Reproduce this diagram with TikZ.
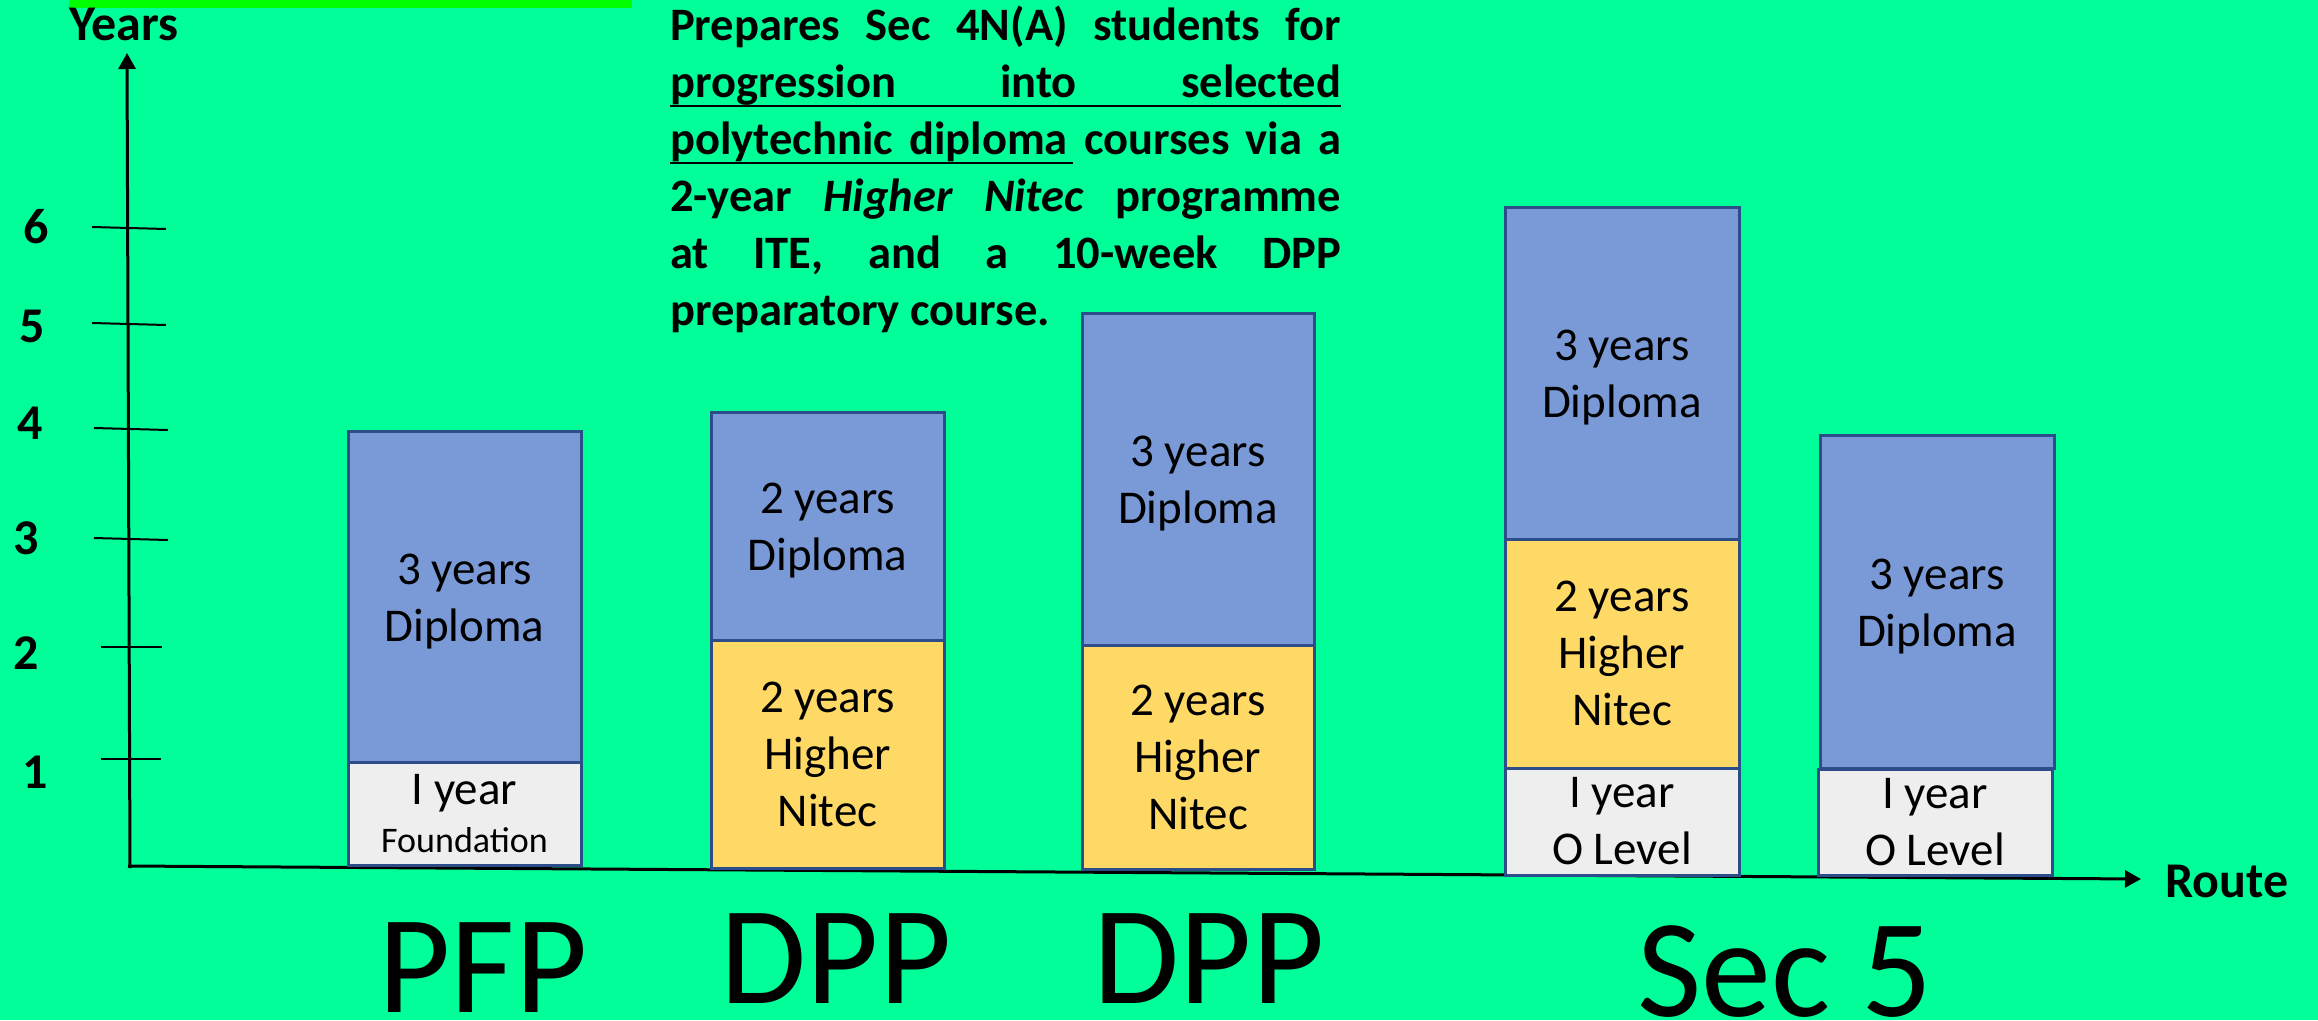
\documentclass[tikz,border=0pt]{standalone}
\usepackage{fontspec}
\setmainfont{Carlito}
\usetikzlibrary{arrows.meta}
\definecolor{bg}{HTML}{00FF99}
\definecolor{topbar}{HTML}{00FF00}
\definecolor{dipblue}{HTML}{7A9AD7}
\definecolor{nitec}{HTML}{FFD966}
\definecolor{pale}{HTML}{EEEEEE}
\definecolor{edge}{HTML}{2D4C8A}
\newcommand{\mytallstrut}{\rule{0pt}{40pt}}
\begin{document}
\begin{tikzpicture}[x=1pt,y=-1pt,
  seg/.style={draw=edge, line width=3pt, inner sep=0pt, align=center, font=\fontsize{47}{57}\selectfont},
  axisline/.style={line width=3pt, -{Triangle[length=16pt,width=17pt]}},
  tickline/.style={line width=2pt},
  ulineline/.style={line width=2.6pt},
  num/.style={font=\fontsize{50}{60}\selectfont\bfseries, inner sep=0pt},
  routelab/.style={font=\fontsize{140}{150}\selectfont, inner sep=0pt, anchor=base}
]
\useasboundingbox (0,0) rectangle (2318,1020);
\fill[bg] (0,0) rectangle (2318,1020);
\fill[topbar] (69,0) rectangle (632,8);

% axes
\coordinate (yfoot) at (130,868);
\coordinate (ytip) at (127,53);
\coordinate (xfoot) at (128,866);
\coordinate (xtip) at (2141,879);
\draw[axisline] (yfoot) -- (ytip);
\draw[axisline] (xfoot) -- (xtip);

% ticks
\draw[tickline] (92,227) -- (166,229);
\draw[tickline] (92,323) -- (166,325);
\draw[tickline] (94,428) -- (168,430);
\draw[tickline] (94,538) -- (168,540);
\draw[tickline] (101,647) -- (162,647);
\draw[tickline] (101,759) -- (161,759);

% tick labels
\node[num] (n6) at (36,227) {6};
\node[num] (n5) at (32,326) {5};
\node[num] (n4) at (30,423) {4};
\node[num] (n3) at (26,538) {3};
\node[num] (n2) at (26,653) {2};
\node[num] (n1) at (35,772) {1};

\node[num, anchor=base west] (ylab) at (69,40) {Years};
\node[num, anchor=base west] (xlab) at (2165,897) {Route};

% description
\node[anchor=base west, inner sep=0pt, text width=671pt, align=justify,
      font=\fontsize{46.5}{57}\selectfont\bfseries] (desc) at (670,40)
{Prepares Sec 4N(A) students for\linebreak
progression into selected\linebreak
polytechnic diploma courses via a\linebreak
2-year \textit{Higher Nitec} programme\linebreak
at ITE, and a 10-week DPP\linebreak
preparatory course.};
\draw[ulineline] (670,106) -- (1341,106);
\draw[ulineline] (670,163) -- (1073,163);

% PFP
\node[seg, fill=dipblue, minimum width=233pt, minimum height=331pt] (pfpdip) at (464.5,596.5) {\mytallstrut 3 years\\Diploma};
\node[seg, fill=pale, minimum width=233pt, minimum height=103pt] (pfpfound) at (464.5,813.5) {I year\\[-9pt]{\fontsize{36}{44}\selectfont Foundation}};

% DPP 1
\node[seg, fill=dipblue, minimum width=233pt, minimum height=228pt] (dppadip) at (827.5,526) {\mytallstrut 2 years\\Diploma};
\node[seg, fill=nitec, minimum width=233pt, minimum height=228pt] (dppanit) at (827.5,754) {2 years\\Higher\\Nitec};

% DPP 2
\node[seg, fill=dipblue, minimum width=232pt, minimum height=332pt] (dppbdip) at (1198,479) {\mytallstrut 3 years\\Diploma};
\node[seg, fill=nitec, minimum width=232pt, minimum height=224pt] (dppbnit) at (1198,757) {2 years\\Higher\\Nitec};

% Sec 5 a
\node[seg, fill=dipblue, minimum width=234pt, minimum height=332pt] (secadip) at (1622,373) {\mytallstrut 3 years\\Diploma};
\node[seg, fill=nitec, minimum width=234pt, minimum height=229pt] (secanit) at (1622,653.5) {2 years\\Higher\\Nitec};
\node[seg, fill=pale, minimum width=234pt, minimum height=107pt] (secaol) at (1622,821.5) {I year\\O Level};

% Sec 5 b
\node[seg, fill=dipblue, minimum width=234pt, minimum height=333pt] (secbdip) at (1937,601.5) {\mytallstrut 3 years\\Diploma};
\node[seg, fill=pale, minimum width=234pt, minimum height=106pt] (secbol) at (1935,822) {I year\\O Level};

% route labels
\node[routelab] (lpfp) at (483,1012) {PFP};
\node[routelab] (ldppa) at (836,1003) {DPP};
\node[routelab] (ldppb) at (1209,1003) {DPP};
\node[routelab] (lsec) at (1785,1016) {Sec 5};
\end{tikzpicture}
\end{document}
